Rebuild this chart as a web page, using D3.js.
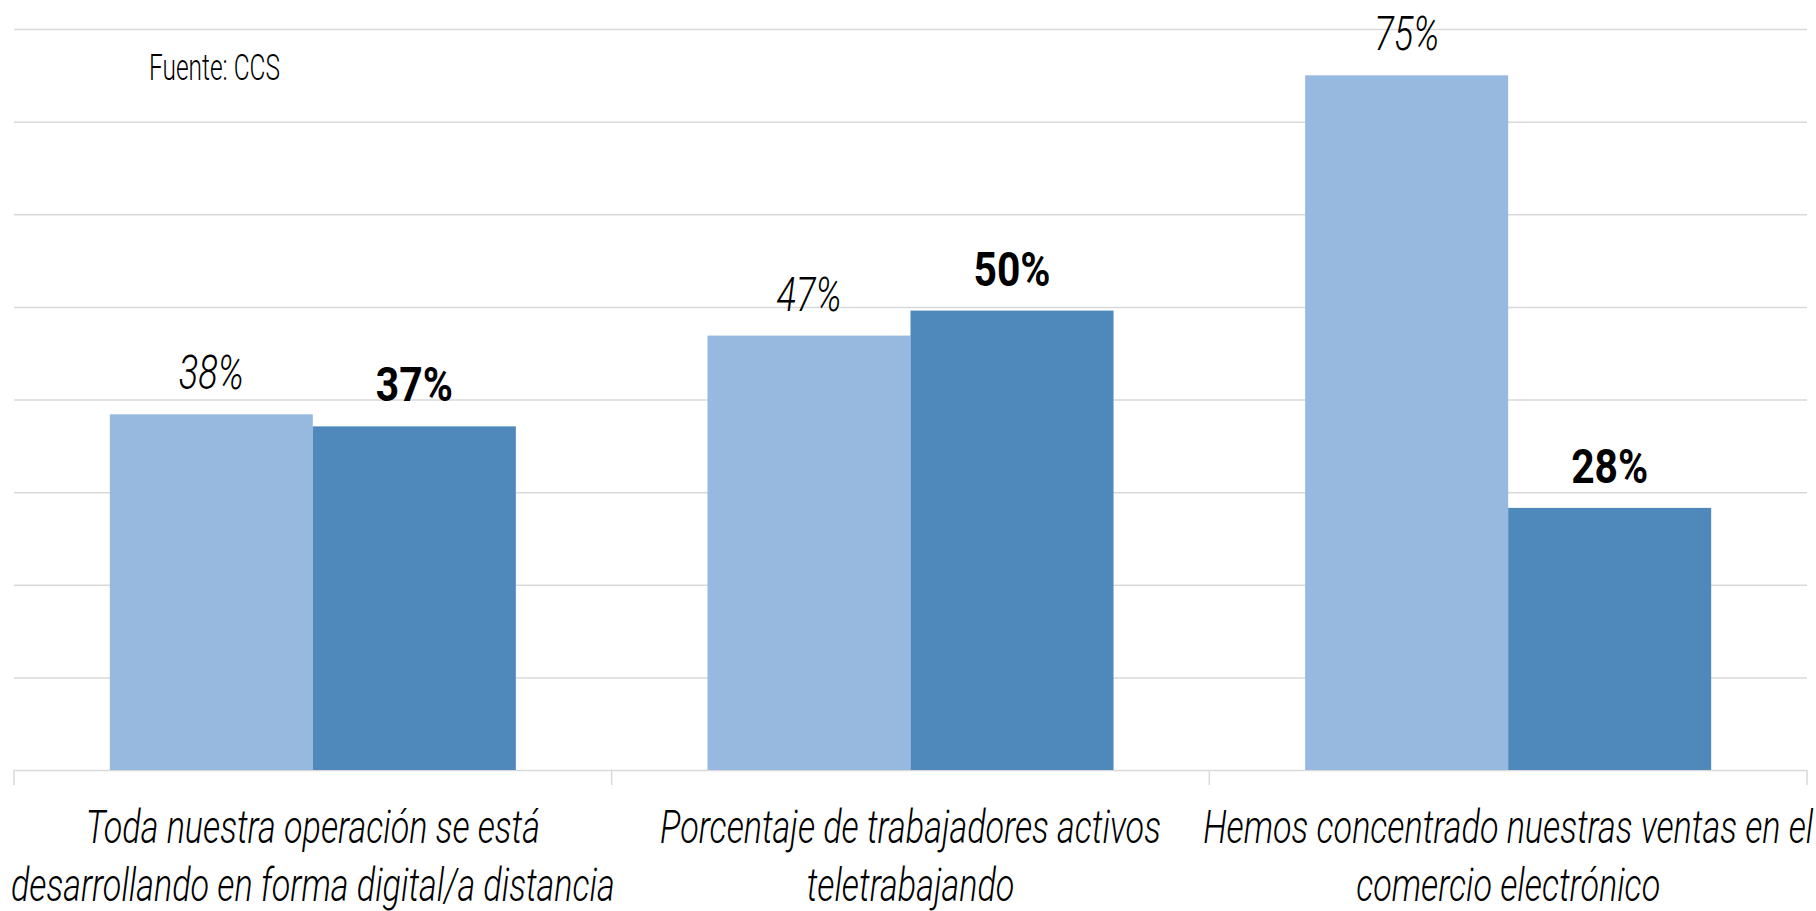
<!DOCTYPE html>
<html lang="es">
  <head>
    <meta charset="utf-8">
    <title>Operación digital</title>
    <script src="https://cdn.jsdelivr.net/npm/d3@7"></script>
    <style>
      body { margin: 0; background: #fff; }
      text { font-family: Roboto, "Liberation Sans", sans-serif; fill: #000; }
    </style>
  </head>
  <body>
    <script>

      /* data */
      const categories = ["op", "tele", "ecom"];
      const category_lines = [
        ["Toda nuestra operación se está", "desarrollando en forma digital/a distancia"],
        ["Porcentaje de trabajadores activos", "teletrabajando"],
        ["Hemos concentrado nuestras ventas en el", "comercio electrónico"]
      ];
      const series_names = ["light", "dark"];
      const values_light = [38.4, 46.9, 75.0];
      const values_dark = [37.1, 49.6, 28.3];
      const y_ticks = [0, 10, 20, 30, 40, 50, 60, 70, 80];
      const source_txt = "Fuente: CCS";

      /* layout */
      const WIDTH = 1816;
      const HEIGHT = 911;
      const PLOT_LEFT = 14;
      const PLOT_RIGHT = 1807;
      const PLOT_TOP = 29;
      const PLOT_BOTTOM = 770;
      const TICK_LEN = 15;
      const LABEL_GAP = 25;
      const CAT_LINE1_Y = 843;
      const CAT_LINE_STEP = 58;
      const COLORS = {light: "#98b9df", dark: "#4f89bc"};
      const GRID = "#d9d9d9";

      // the original font is a narrow one, so squeeze the text sideways
      // (factor found from one sample string of each style and its width in the original)
      const FONT_CAT = 46, FONT_VAL = 48, FONT_SRC = 36;

      let svg = d3.select("body").append("svg")
        .attr("width", WIDTH)
        .attr("height", HEIGHT);

      function squeeze_factor(sample, size, style, weight, target){
        let t = svg.append("text")
          .attr("font-size", size)
          .attr("font-style", style)
          .attr("font-weight", weight)
          .text(sample);
        let w = t.node().getComputedTextLength();
        t.remove();
        return target / w;
      }

      const SX_CAT = squeeze_factor("desarrollando en forma digital/a distancia", FONT_CAT, "italic", 300, 604);
      const SX_VAL_LIGHT = squeeze_factor("75%", FONT_VAL, "italic", 300, 65);
      const SX_VAL_DARK = squeeze_factor("50%", FONT_VAL, "normal", "bold", 77);
      const SX_SRC = squeeze_factor(source_txt, FONT_SRC, "normal", 300, 131);

      let x = d3.scaleBand()
        .domain(categories)
        .range([PLOT_LEFT, PLOT_RIGHT])
        .padding(0);

      let x_inner = d3.scaleBand()
        .domain(series_names)
        .range([0, x.bandwidth()])
        .paddingInner(0)
        .paddingOuter(0.472);

      let y = d3.scaleLinear()
        .domain([0, 80])
        .range([PLOT_BOTTOM, PLOT_TOP]);

      // gridlines
      let grid = svg.append("g")
        .attr("transform", "translate(" + PLOT_LEFT + ",0)")
        .call(d3.axisLeft(y).tickValues(y_ticks).tickSize(-(PLOT_RIGHT - PLOT_LEFT)).tickFormat(""));
      grid.select(".domain").remove();
      grid.selectAll(".tick line").attr("stroke", GRID).attr("stroke-width", 1.5);

      // category separators under the axis
      let bounds = categories.map(c => x(c)).concat([x(categories[categories.length - 1]) + x.bandwidth()]);
      svg.append("g").selectAll("line")
        .data(bounds)
        .join("line")
        .attr("x1", d => d).attr("x2", d => d)
        .attr("y1", PLOT_BOTTOM).attr("y2", PLOT_BOTTOM + TICK_LEN)
        .attr("stroke", GRID).attr("stroke-width", 1.5);

      // bars
      let rows = categories.map((c, i) => ({cat: c, light: values_light[i], dark: values_dark[i]}));
      let groups = svg.append("g").selectAll("g")
        .data(rows)
        .join("g")
        .attr("transform", d => "translate(" + x(d.cat) + ",0)");

      groups.selectAll("rect")
        .data(d => series_names.map(s => ({s: s, v: d[s]})))
        .join("rect")
        .attr("x", d => x_inner(d.s))
        .attr("y", d => y(d.v))
        .attr("width", x_inner.bandwidth())
        .attr("height", d => y(0) - y(d.v))
        .attr("fill", d => COLORS[d.s]);

      // value labels
      groups.selectAll("text.val")
        .data(d => series_names.map(s => ({s: s, v: d[s]})))
        .join("text")
        .attr("class", "val")
        .attr("transform", d => "translate(" + (x_inner(d.s) + x_inner.bandwidth() / 2) + "," + (y(d.v) - LABEL_GAP) + ") scale(" + (d.s === "light" ? SX_VAL_LIGHT : SX_VAL_DARK) + ",1)")
        .attr("text-anchor", "middle")
        .attr("font-size", FONT_VAL)
        .attr("font-style", d => d.s === "light" ? "italic" : "normal")
        .attr("font-weight", d => d.s === "light" ? 300 : "bold")
        .text(d => Math.round(d.v) + "%");

      // category labels, one text per line
      let cat_lines = [];
      categories.forEach((c, i) => {
        category_lines[i].forEach((t, k) => cat_lines.push({t: t, k: k, cx: x(c) + x.bandwidth() / 2}));
      });
      svg.append("g").selectAll("text")
        .data(cat_lines)
        .join("text")
        .attr("transform", d => "translate(" + d.cx + "," + (CAT_LINE1_Y + d.k * CAT_LINE_STEP) + ") scale(" + SX_CAT + ",1)")
        .attr("text-anchor", "middle")
        .attr("font-size", FONT_CAT)
        .attr("font-style", "italic")
        .attr("font-weight", 300)
        .text(d => d.t);

      svg.append("text")
        .attr("transform", "translate(149,80) scale(" + SX_SRC + ",1)")
        .attr("font-size", FONT_SRC)
        .attr("font-weight", 300)
        .text(source_txt);

    </script>
  </body>
</html>
